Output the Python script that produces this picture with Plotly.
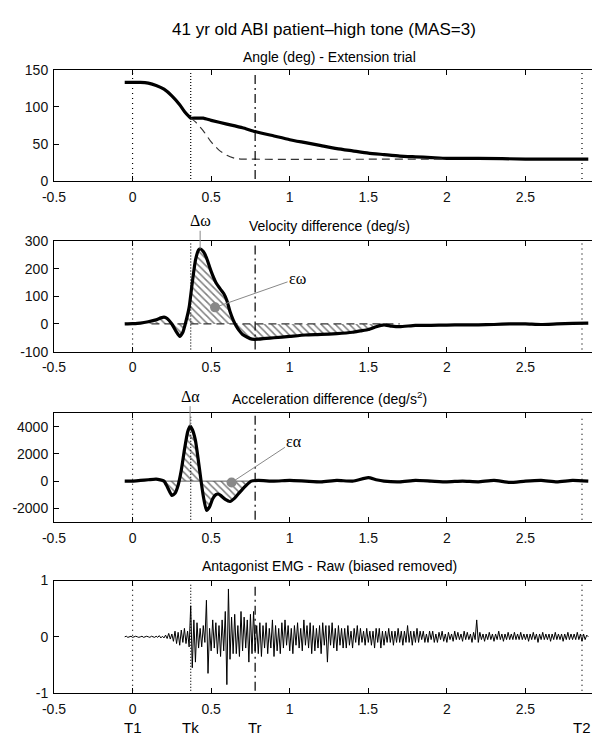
import numpy as np
import plotly.graph_objects as go

# ---------------- data ----------------
X_TICKS = [-0.5, 0, 0.5, 1, 1.5, 2, 2.5, 3]
X_TICK_LABELS = ["-0.5", "0", "0.5", "1", "1.5", "2", "2.5", "3"]

EVENT_NAMES = ["T1", "Tk", "Tr", "T2"]
EVENT_TIMES = [0.0, 0.37, 0.78, 2.86]
EVENT_STYLES = ["1px,4px", "1px,2px", "9px,4px,2px,4px", "1px,4px"]

ANGLE_T = [-0.05, 0.0, 0.05, 0.1, 0.15, 0.2, 0.25, 0.3, 0.33, 0.36, 0.37, 0.4, 0.45, 0.5, 0.6, 0.7,
           0.78, 0.9, 1.0, 1.1, 1.2, 1.3, 1.4, 1.5, 1.6, 1.7, 1.8, 1.9, 2.0, 2.2, 2.5, 2.9]
ANGLE = [133, 133, 133, 132, 129, 124, 115, 103, 94, 87, 85, 85, 85, 82, 77, 72,
         67, 61, 56, 52, 48, 44, 41, 38, 36, 34, 33, 32, 31, 31, 30, 30]
MODEL_T = [0.37, 0.4, 0.45, 0.5, 0.55, 0.6, 0.65, 0.7, 2.0]
MODEL = [85, 80, 68, 53, 42, 35, 31, 30, 30]

VEL_T = [-0.05, 0.0, 0.05, 0.1, 0.15, 0.18, 0.2, 0.22, 0.25, 0.28, 0.3, 0.32, 0.34, 0.36, 0.38,
         0.4, 0.42, 0.43, 0.45, 0.47, 0.5, 0.53, 0.56, 0.58, 0.6, 0.62, 0.64, 0.66, 0.68, 0.7,
         0.73, 0.76, 0.8, 0.85, 0.9, 1.0, 1.1, 1.2, 1.3, 1.4, 1.45, 1.5, 1.55, 1.58, 1.6,
         1.65, 1.7, 1.8, 1.9, 2.0, 2.1, 2.2, 2.3, 2.4, 2.5, 2.6, 2.7, 2.8, 2.9]
VEL = [0, 1, 3, 8, 15, 22, 25, 20, 0, -30, -45, -30, 10, 60, 150,
       230, 268, 272, 262, 240, 190, 150, 125, 110, 85, 45, 15, -8, -25, -38,
       -48, -55, -55, -52, -50, -45, -40, -38, -35, -30, -25, -20, -10, -5, -3,
       -8, -10, -5, -5, -4, -3, -3, -2, 0, 0, -2, 0, 2, 3]
VEL_HATCH = [0.1, 1.55]
VEL_DASH = [0.12, 1.7]

ACC_T = [-0.05, 0.0, 0.05, 0.1, 0.15, 0.2, 0.22, 0.25, 0.27, 0.29, 0.31, 0.33, 0.35, 0.366, 0.38,
         0.4, 0.42, 0.436, 0.45, 0.47, 0.49, 0.51, 0.53, 0.545, 0.56, 0.59, 0.62, 0.65, 0.68, 0.72,
         0.755, 0.8, 0.9, 1.0, 1.1, 1.2, 1.3, 1.4, 1.5, 1.55, 1.6, 1.7, 1.8, 1.9, 2.0,
         2.1, 2.2, 2.3, 2.4, 2.5, 2.6, 2.7, 2.8, 2.9]
ACC = [0, 0, 50, 100, 150, 0, -400, -1050, -900, -300, 800, 2300, 3600, 4050, 3800,
       3000, 1400, 0, -1100, -2150, -1900, -1300, -1000, -950, -1050, -1350, -1500, -1250, -850, -350,
       0, 50, 0, 50, 0, -50, 50, 0, 250, 100, 0, -50, 50, 0, -50,
       0, -50, 50, -100, 0, 50, -50, 50, 0]
ACC_HATCH = [0.2, 0.755]

EPS_W = (0.525, 60)
EPS_W_LABEL = (1.05, 165)
PEAK_W = (0.43, 272)
EPS_A = (0.63, -100)
EPS_A_LABEL = (1.03, 2950)
PEAK_A = (0.366, 4050)

EMG_T0 = -0.05
EMG_DT = 0.01
EMG = [
    0, 0.01, -0.01, 0, 0.01, -0.01, 0, 0.01, 0, -0.01,
    0, 0.01, -0.01, 0, 0.01, 0, -0.01, 0.01, 0, -0.01,
    0.01, -0.01, 0.02, -0.02, 0.01, -0.02, 0.03, -0.03, 0.06, -0.04,
    0.05, -0.08, 0.1, -0.12, 0.08, -0.15, 0.12, -0.1, 0.15, -0.12,
    0.1, -0.18, 0.55, -0.55, 0.3, -0.45, 0.25, -0.2, 0.15, -0.18,
    0.2, -0.1, 0.65, -0.65, 0.15, -0.25, 0.3, -0.2, 0.25, -0.3,
    0.2, -0.35, 0.3, -0.25, 0.45, -0.85, 0.85, -0.4, 0.35, -0.3,
    0.4, -0.3, 0.2, -0.35, 0.45, -0.25, 0.35, -0.2, 0.3, -0.45,
    0.4, -0.3, 0.45, -0.25, 0.2, -0.3, 0.25, -0.35, 0.2, -0.2,
    0.25, -0.3, 0.15, -0.2, 0.3, -0.35, 0.2, -0.25, 0.15, -0.3,
    0.25, -0.2, 0.3, -0.15, 0.2, -0.25, 0.15, -0.3, 0.2, -0.15,
    0.25, -0.2, 0.15, -0.25, 0.3, -0.15, 0.2, -0.2, 0.25, -0.3,
    0.2, -0.25, 0.15, -0.2, 0.2, -0.3, 0.25, -0.15, 0.2, -0.45,
    0.2, -0.15, 0.25, -0.2, 0.15, -0.25, 0.2, -0.15, 0.15, -0.2,
    0.15, -0.2, 0.2, -0.15, 0.1, -0.2, 0.15, -0.1, 0.2, -0.15,
    0.15, -0.1, 0.1, -0.15, 0.15, -0.1, 0.1, -0.15, 0.1, -0.2,
    0.15, -0.1, 0.15, -0.2, 0.1, -0.15, 0.1, -0.1, 0.15, -0.1,
    0.1, -0.15, 0.1, -0.1, 0.15, -0.1, 0.1, -0.15, 0.1, -0.1,
    0.2, -0.1, 0.1, -0.15, 0.1, -0.1, 0.15, -0.1, 0.1, -0.05,
    0.1, -0.1, 0.05, -0.1, 0.1, -0.05, 0.1, -0.1, 0.05, -0.1,
    0.08, -0.05, 0.1, -0.08, 0.05, -0.1, 0.08, -0.05, 0.05, -0.08,
    0.1, -0.05, 0.08, -0.05, 0.05, -0.08, 0.1, -0.05, 0.08, -0.05,
    0.05, -0.1, 0.08, -0.05, 0.3, -0.1, 0.08, -0.05, 0.05, -0.08,
    0.05, -0.05, 0.08, -0.05, 0.05, -0.08, 0.05, -0.05, 0.1, -0.05,
    0.05, -0.08, 0.05, -0.05, 0.08, -0.05, 0.05, -0.05, 0.08, -0.05,
    0.05, -0.05, 0.08, -0.05, 0.05, -0.05, 0.05, -0.08, 0.05, -0.05,
    0.08, -0.05, 0.05, -0.1, 0.05, -0.05, 0.08, -0.05, 0.05, -0.05,
    0.05, -0.08, 0.05, -0.05, 0.08, -0.05, 0.05, -0.05, 0.05, -0.08,
    0.05, -0.05, 0.08, -0.05, 0.05, -0.05, 0.05, -0.05, 0.08, -0.05,
    0.05, -0.08, 0.05, -0.05, 0.03, 0,
]
EMG_T = np.round(EMG_T0 + EMG_DT * np.arange(len(EMG)), 3)

Y_RANGES = [[0, 150], [-100, 300], [-3000, 5000], [-1, 1]]
Y_TICKS = [[0, 50, 100, 150], [-100, 0, 100, 200, 300], [-2000, 0, 2000, 4000], [-1, 0, 1]]
Y_TICK_LABELS = [["0", "50", "100", "150"], ["-100", "0", "100", "200", "300"],
                 ["-2000", "0", "2000", "4000"], ["-1", "0", "1"]]

MAIN_TITLE = "41 yr old ABI patient\u2013high tone (MAS=3)"
PANEL_TITLES = ["Angle (deg) - Extension trial", "Velocity difference (deg/s)",
                "Acceleration difference (deg/s<sup>2</sup>)", "Antagonist EMG - Raw (biased removed)"]

# ---------------- layout geometry (pixels) ----------------
W, H = 600, 741
ML, MR = 46, 4
PANEL_PX = [(55, 169), (230, 343), (406, 517), (577, 692)]
TITLE_PY = [42, 215, 390, 562]
MAIN_PY = 14
TLABEL_PY = 727


def py(p):
    return 1 - p / H


def px(p):
    return (p - ML) / (W - ML - MR)


FONT = "Liberation Sans"
SERIF = "Liberation Serif"
HATCH = dict(shape="\\", fgcolor="black", bgcolor="white", size=5, solidity=0.3)

fig = go.Figure()

# panel 1
fig.add_trace(go.Scatter(x=ANGLE_T, y=ANGLE, mode="lines", line=dict(color="black", width=3.2, shape="spline", smoothing=0.5),
                         xaxis="x", yaxis="y"))
fig.add_trace(go.Scatter(x=MODEL_T, y=MODEL, mode="lines", line=dict(color="#333", width=1.2, dash="8px,5px", shape="spline", smoothing=0.5),
                         xaxis="x", yaxis="y"))

# panel 2
vt = np.array(VEL_T); vv = np.array(VEL)
m = (vt >= VEL_HATCH[0]) & (vt <= VEL_HATCH[1])
fig.add_trace(go.Scatter(x=vt[m], y=vv[m], mode="lines", fill="tozeroy", line=dict(width=0, color="black", shape="spline", smoothing=0.5),
                         fillcolor="rgba(0,0,0,0)", fillpattern=HATCH, xaxis="x2", yaxis="y2"))
fig.add_trace(go.Scatter(x=VEL_DASH, y=np.zeros(len(VEL_DASH)), mode="lines", line=dict(color="#333", width=1.3, dash="8px,5px"),
                         xaxis="x2", yaxis="y2"))
fig.add_trace(go.Scatter(x=VEL_T, y=VEL, mode="lines", line=dict(color="black", width=3.2, shape="spline", smoothing=0.5),
                         xaxis="x2", yaxis="y2"))
fig.add_trace(go.Scatter(x=[EPS_W[0]], y=[EPS_W[1]], mode="markers", marker=dict(color="#888", size=10),
                         xaxis="x2", yaxis="y2"))

# panel 3
at = np.array(ACC_T); av = np.array(ACC)
m = (at >= ACC_HATCH[0]) & (at <= ACC_HATCH[1])
fig.add_trace(go.Scatter(x=at[m], y=av[m], mode="lines", fill="tozeroy", line=dict(width=0, color="black", shape="spline", smoothing=0.5),
                         fillcolor="rgba(0,0,0,0)", fillpattern=HATCH, xaxis="x3", yaxis="y3"))
fig.add_trace(go.Scatter(x=ACC_HATCH, y=np.zeros(len(ACC_HATCH)), mode="lines", line=dict(color="#555", width=1),
                         xaxis="x3", yaxis="y3"))
fig.add_trace(go.Scatter(x=ACC_T, y=ACC, mode="lines", line=dict(color="black", width=3.2, shape="spline", smoothing=0.5),
                         xaxis="x3", yaxis="y3"))
fig.add_trace(go.Scatter(x=[EPS_A[0]], y=[EPS_A[1]], mode="markers", marker=dict(color="#888", size=10),
                         xaxis="x3", yaxis="y3"))

# panel 4
fig.add_trace(go.Scatter(x=EMG_T, y=EMG, mode="lines", line=dict(color="black", width=1),
                         xaxis="x4", yaxis="y4"))

axis_common = dict(showgrid=False, zeroline=False, showline=True, linecolor="black", linewidth=1,
                   mirror="ticks", ticks="inside", ticklen=5, tickcolor="black",
                   tickfont=dict(family=FONT, size=14, color="#111"))

layout = dict(width=W, height=H, margin=dict(l=ML, r=MR, t=0, b=0), showlegend=False,
              plot_bgcolor="white", paper_bgcolor="white")
for i in range(4):
    s = "" if i == 0 else str(i + 1)
    top, bot = PANEL_PX[i]
    layout["xaxis" + s] = dict(axis_common, domain=[0, 1], range=[-0.5, 3], tickvals=X_TICKS, ticktext=X_TICK_LABELS,
                               anchor="y" + s, ticklabelstandoff=3)
    layout["yaxis" + s] = dict(axis_common, domain=[py(bot), py(top)], range=Y_RANGES[i], tickvals=Y_TICKS[i],
                               ticktext=Y_TICK_LABELS[i], anchor="x" + s, ticklabelstandoff=2)
fig.update_layout(**layout)

# event lines
for i in range(4):
    s = "" if i == 0 else str(i + 1)
    for t, d in zip(EVENT_TIMES, EVENT_STYLES):
        fig.add_shape(type="line", xref="x" + s, yref="y" + s + " domain", x0=t, x1=t, y0=0.02, y1=0.98,
                      line=dict(color="black", width=1.2, dash=d))

# titles
fig.add_annotation(text=MAIN_TITLE, xref="paper", yref="paper", x=px(316), y=py(MAIN_PY), showarrow=False,
                   font=dict(family=FONT, size=17, color="black"), xanchor="center", yanchor="middle")
for i in range(4):
    fig.add_annotation(text=PANEL_TITLES[i], xref="paper", yref="paper", x=0.5, y=py(TITLE_PY[i]), showarrow=False,
                       font=dict(family=FONT, size=14, color="black"), xanchor="center", yanchor="middle")

# delta / epsilon annotations
fig.add_annotation(text="\u0394\u03c9", xref="x2", yref="y2", x=PEAK_W[0], y=PEAK_W[1], ax=0, ay=-28,
                   showarrow=True, arrowhead=0, arrowwidth=1, arrowcolor="#888", standoff=0,
                   font=dict(family=SERIF, size=16, color="black"))
fig.add_annotation(text="\u0394\u03b1", xref="x3", yref="y3", x=PEAK_A[0], y=PEAK_A[1], ax=0, ay=-30,
                   showarrow=True, arrowhead=0, arrowwidth=1, arrowcolor="#888", standoff=0,
                   font=dict(family=SERIF, size=16, color="black"))
fig.add_annotation(text="\u03b5\u03c9", xref="x2", yref="y2", x=EPS_W[0], y=EPS_W[1], axref="x2", ayref="y2",
                   ax=EPS_W_LABEL[0], ay=EPS_W_LABEL[1],
                   showarrow=True, arrowhead=0, arrowwidth=1, arrowcolor="#888", standoff=0,
                   font=dict(family=SERIF, size=16, color="black"))
fig.add_annotation(text="\u03b5\u03b1", xref="x3", yref="y3", x=EPS_A[0], y=EPS_A[1], axref="x3", ayref="y3",
                   ax=EPS_A_LABEL[0], ay=EPS_A_LABEL[1],
                   showarrow=True, arrowhead=0, arrowwidth=1, arrowcolor="#888", standoff=0,
                   font=dict(family=SERIF, size=16, color="black"))

# event labels
for name, t in zip(EVENT_NAMES, EVENT_TIMES):
    fig.add_annotation(text=name, xref="x4", yref="paper", x=t, y=py(TLABEL_PY), showarrow=False,
                       font=dict(family=FONT, size=15, color="black"), xanchor="center", yanchor="middle")

fig.write_html("out.html")
